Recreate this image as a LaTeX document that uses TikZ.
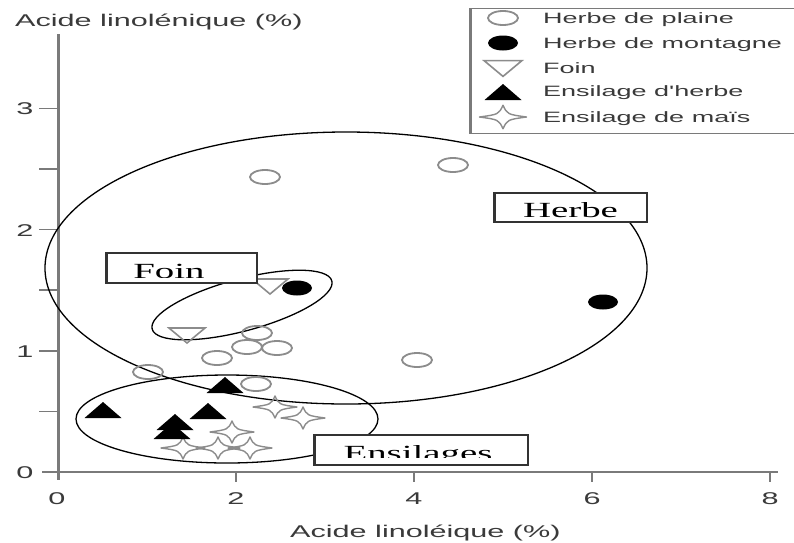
\documentclass[tikz,border=0pt]{standalone}
\usepackage{fontspec}
\setmainfont{Liberation Serif}
\newfontfamily\wsans[FakeStretch=1.8]{Liberation Sans}
\newfontfamily\wserif[FakeStretch=1.8]{Liberation Serif}
\definecolor{axgray}{HTML}{7A7A7A}
\definecolor{mgray}{HTML}{8C8C8C}
\definecolor{txtgray}{HTML}{3A3A3A}
\tikzset{
  axline/.style={axgray, line width=1.6},
  grpline/.style={black, line width=1.3},
  ticklab/.style={font=\wsans\fontsize{17}{20}\selectfont, text=txtgray, inner sep=0},
  axtitle/.style={font=\wsans\fontsize{17}{20}\selectfont, text=txtgray, inner sep=0},
  legtext/.style={font=\wsans\fontsize{15}{18}\selectfont, text=txtgray, inner sep=0, anchor=base west},
  labbox/.style={draw=black!80, line width=1.2, fill=white, inner sep=0},
  labtext/.style={font=\wserif\fontsize{21.6}{24}\selectfont, inner sep=0, anchor=base},
  ocirc/.pic={\draw[mgray, line width=1.8] (0,0) ellipse [x radius=15, y radius=7];},
  fcirc/.pic={\fill[black] (0,0) ellipse [x radius=15, y radius=7.5];},
  tdown/.pic={\draw[mgray, line width=1.6, line join=miter] (-18,-7) -- (18,-7) -- (0,8) -- cycle;},
  tup/.pic={\fill[black] (-18.5,8) -- (18.5,8) -- (0,-8) -- cycle;},
  mstar/.pic={\draw[mgray, line width=1.4, line join=round]
     (22,0) .. controls (4,2.5) .. (0,11) .. controls (-4,2.5) .. (-22,0)
     .. controls (-4,-2.5) .. (0,-11) .. controls (4,-2.5) .. (22,0) -- cycle;}
}
\begin{document}
\begin{tikzpicture}[x=1pt,y=-1pt]
\useasboundingbox (0,0) rectangle (794,542);
\clip (0,0) rectangle (794,542);
\fill[white] (0,0) rectangle (794,542);

% axes
\draw[axgray, line width=3] (58,34) -- (58,480);
\draw[axline] (42,472) -- (778,472);
\foreach \v in {0.5,1,1.5,2,2.5,3} {
  \draw[axline] (39,{472-121.2*\v}) -- (58,{472-121.2*\v});
}
\foreach \v in {2,4,6,8} {
  \draw[axline] ({58+89*\v},472) -- ({58+89*\v},482);
}
\node[ticklab, anchor=base] (x0) at (57,504) {0};
\node[ticklab, anchor=base] (x2) at (236,504) {2};
\node[ticklab, anchor=base] (x4) at (414,504) {4};
\node[ticklab, anchor=base] (x6) at (592,504) {6};
\node[ticklab, anchor=base] (x8) at (770,504) {8};
\node[ticklab, anchor=base] (y0) at (25,478) {0};
\node[ticklab, anchor=base] (y1) at (25,357) {1};
\node[ticklab, anchor=base] (y2) at (25,236) {2};
\node[ticklab, anchor=base] (y3) at (25,114) {3};
\node[axtitle, anchor=base west] (ytitle) at (15,26) {Acide linolénique (\%)};
\node[axtitle, anchor=base west] (xtitle) at (290,537) {Acide linoléique (\%)};

% group ellipses
\draw[grpline] (346,268) ellipse [x radius=301, y radius=136];
\draw[grpline] (227,419) ellipse [x radius=151, y radius=44];
\draw[grpline, rotate around={15:(242,305)}] (242,305) ellipse [x radius=93, y radius=26];

% Foin
\pic at (187,335) {tdown};
\pic at (270,286) {tdown};
% Herbe de plaine
\foreach \p in {(265,177),(453,165),(257,333),(247,347),(277,348),(217,358),(148,372),(256,384),(417,360)}
  \pic at \p {ocirc};
% Herbe de montagne
\pic at (297,288) {fcirc};
\pic at (603,302) {fcirc};
% Ensilage de mais
\foreach \p in {(275,407),(303,418),(232,432),(183,448),(218,448),(250,448)}
  \pic at \p {mstar};
% Ensilage d'herbe
\foreach \p in {(103,410),(225,385),(208,411),(175,422),(172,431)}
  \pic at \p {tup};

% label boxes
\node[labbox, minimum width=152, minimum height=29] (herbebox) at (571,207.5) {};
\draw[black!80, line width=3] (herbebox.north west) -- (herbebox.south west);
\begin{scope}
  \clip (495,193) rectangle (647,217.5);
  \node[labtext] (herbelab) at (570.5,217.5) {Herbe};
\end{scope}
\node[labbox, minimum width=150, minimum height=30] (foinbox) at (182,268) {};
\draw[black!80, line width=3] (foinbox.north west) -- (foinbox.south west);
\begin{scope}
  \clip (107,253) rectangle (257,277.5);
  \node[labtext] (foinlab) at (169,278.6) {Foin};
\end{scope}
\node[labbox, minimum width=213, minimum height=30] (ensbox) at (421.5,450) {};
\draw[black!80, line width=3] (ensbox.north west) -- (ensbox.south west);
\begin{scope}
  \clip (315,435) rectangle (528,457.5);
  \node[labtext] (enslab) at (418,460.4) {Ensilages};
\end{scope}

% legend
\node[draw=axgray, line width=1.4, fill=white, minimum width=340, minimum height=125, anchor=north west, inner sep=0] (legend) at (470,8) {};
\draw[axgray, line width=3] (legend.north west) -- (legend.south west);
\pic at (503,18) {ocirc};
\pic at (503,43) {fcirc};
\pic[scale=1.05] at (503,68) {tdown};
\pic at (503,92) {tup};
\pic[scale=1.07] at (503,117) {mstar};
\node[legtext] (l1) at (543,23.5) {Herbe de plaine};
\node[legtext] (l2) at (543,48.5) {Herbe de montagne};
\node[legtext] (l3) at (543,73.5) {Foin};
\node[legtext] (l4) at (543,96.5) {Ensilage d'herbe};
\node[legtext] (l5) at (543,122.5) {Ensilage de maïs};
\end{tikzpicture}
\end{document}
